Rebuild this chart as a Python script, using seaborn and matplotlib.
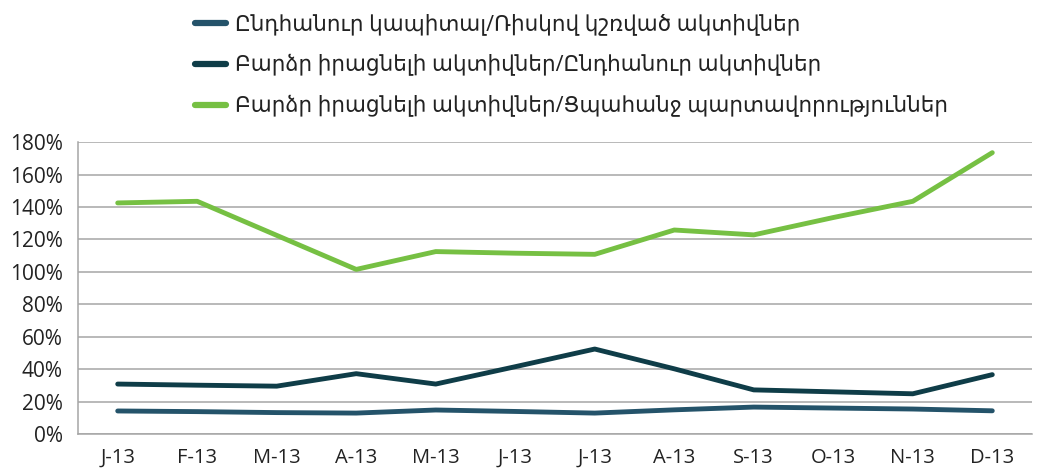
import matplotlib
matplotlib.use("Agg")
import matplotlib.pyplot as plt
import seaborn as sns
import pandas as pd
import numpy as np
from matplotlib.ticker import FixedLocator, FuncFormatter

# datos
meses = ['J-13', 'F-13', 'M-13', 'A-13', 'M-13', 'J-13', 'J-13', 'A-13', 'S-13', 'O-13', 'N-13', 'D-13']

serie_1 = [14.2, 13.8, 13.2, 12.9, 14.8, 13.9, 12.9, 14.9, 16.6, 16.0, 15.4, 14.3]
serie_2 = [30.8, 30.1, 29.5, 37.2, 30.8, 41.5, 52.4, 40.2, 27.2, 26.0, 24.8, 36.6]
serie_3 = [142.5, 143.5, 122.5, 101.5, 112.5, 111.5, 110.8, 125.8, 122.8, 133.5, 143.5, 173.5]

nombres = ['Ընդհանուր կապիտալ/Ռիսկով կշռված ակտիվներ',
           'Բարձր իրացնելի ակտիվներ/Ընդհանուր ակտիվներ',
           'Բարձր իրացնելի ակտիվներ/Ցպահանջ պարտավորություններ']
colores = ['#24536a', '#0f3d48', '#76c043']

df = pd.concat([
    pd.DataFrame({'mes': range(len(meses)), 'valor': v, 'serie': n})
    for v, n in zip([serie_1, serie_2, serie_3], nombres)
])

sns.set_style('white')
plt.rcParams['font.family'] = ['Open Sans', 'DejaVu Sans']

fig = plt.figure(figsize=(10.45, 4.7), dpi=100)
ax = fig.add_axes([0.0746, 0.0766, 0.913, 0.621])

sns.lineplot(data=df, x='mes', y='valor', hue='serie', palette=colores,
             linewidth=3.5, ax=ax, legend=False, solid_capstyle='round')

ax.set_xlim(-0.5, 11.5)
ax.set_ylim(0, 180)
ax.set_yticks(np.arange(0, 181, 20))
ax.yaxis.set_major_formatter(FuncFormatter(lambda v, p: f'{int(v)}%'))
ax.yaxis.grid(True, color='#a6a6a6', linewidth=1.1)
ax.set_axisbelow(True)

ax.set_xticks(range(12))
ax.set_xticklabels(meses)
ax.xaxis.set_minor_locator(FixedLocator(np.arange(-0.5, 12, 1)))
ax.tick_params(axis='x', which='major', length=0, pad=10, labelsize=14.5, colors='#222222')
ax.tick_params(axis='x', which='minor', length=7, width=1.1, color='#a6a6a6', direction='out')
ax.tick_params(axis='y', length=7, width=1.1, color='#a6a6a6', labelsize=15, colors='#222222', pad=4)

for s in ['top', 'right']:
    ax.spines[s].set_visible(False)
for s in ['left', 'bottom']:
    ax.spines[s].set_color('#a6a6a6')
    ax.spines[s].set_linewidth(1.1)
ax.set_xlabel('')
ax.set_ylabel('')

handles = [plt.Line2D([], [], color=c, linewidth=4.5) for c in colores]
fig.legend(handles, nombres, loc='upper left', bbox_to_anchor=(0.168, 1.012),
           frameon=False, fontsize=15.5, labelspacing=0.88, handlelength=1.45,
           handletextpad=0.4, labelcolor='#222222')

fig.savefig('out.png', dpi=100)
